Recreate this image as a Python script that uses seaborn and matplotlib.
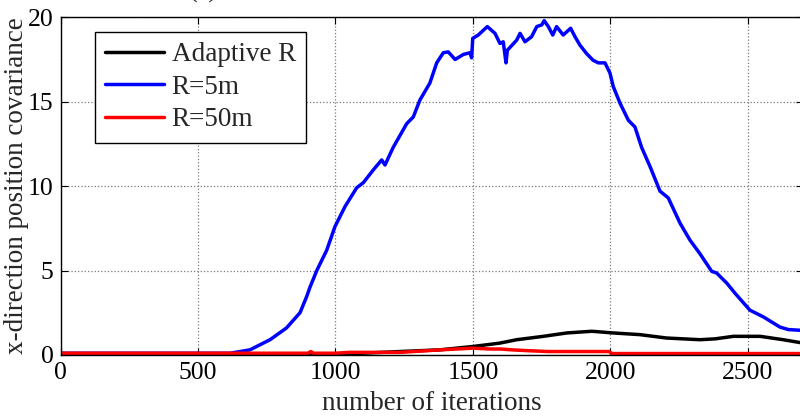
import matplotlib
matplotlib.use("Agg")
import matplotlib.pyplot as plt
import seaborn as sns
import pandas as pd

# ---- data ----
series_names = ["Adaptive R", "R=5m", "R=50m"]
series_colors = ["#000000", "#0000ff", "#ff0000"]

black_x = [0, 1000, 1100, 1235, 1380, 1501, 1598, 1659, 1756, 1841, 1932, 2010,
           2107, 2204, 2325, 2380, 2447, 2544, 2628, 2700]
black_y = [0.05, 0.05, 0.1, 0.2, 0.3, 0.5, 0.7, 0.9, 1.1, 1.3, 1.4, 1.3,
           1.2, 1.0, 0.9, 0.95, 1.1, 1.1, 0.9, 0.7]

blue_x = [0, 617, 689, 762, 822, 871, 895, 907, 932, 968, 998, 1035, 1077, 1101,
          1137, 1168, 1180, 1210, 1259, 1283, 1307, 1343, 1368, 1392, 1410, 1435,
          1465, 1489, 1495, 1499, 1519, 1552, 1580, 1598, 1610, 1620, 1625, 1659,
          1671, 1689, 1713, 1732, 1750, 1759, 1774, 1790, 1804, 1828, 1855, 1871,
          1889, 1913, 1937, 1956, 1980, 1998, 2010, 2035, 2065, 2089, 2113, 2144,
          2180, 2210, 2253, 2289, 2325, 2368, 2386, 2423, 2453, 2507, 2556, 2616,
          2647, 2700]
blue_y = [0.1, 0.1, 0.3, 0.9, 1.6, 2.5, 3.45, 4.0, 5.0, 6.2, 7.6, 8.8, 9.9, 10.2,
          10.95, 11.55, 11.25, 12.3, 13.7, 14.1, 15.1, 16.1, 17.3, 17.9, 17.95, 17.5,
          17.8, 17.9, 17.6, 18.75, 18.95, 19.45, 19.05, 18.45, 18.55, 17.3, 18.05, 18.65,
          19.05, 18.55, 18.85, 19.45, 19.55, 19.8, 19.45, 18.95, 19.45, 18.95, 19.35, 18.85,
          18.35, 17.85, 17.45, 17.3, 17.3, 16.7, 15.9, 14.9, 13.9, 13.5, 12.3, 11.15,
          9.7, 9.3, 7.8, 6.8, 6.0, 4.95, 4.85, 4.25, 3.65, 2.65, 2.25, 1.65,
          1.5, 1.45]

red_x = [0, 900, 910, 920, 1000, 1050, 1235, 1380, 1500, 1560, 1600, 1640, 1700,
         1774, 1956, 1995, 2005, 2700]
red_y = [0.1, 0.1, 0.2, 0.1, 0.1, 0.15, 0.15, 0.3, 0.4, 0.35, 0.35, 0.3, 0.25,
         0.2, 0.2, 0.2, 0.08, 0.08]

x_ticks = [0, 500, 1000, 1500, 2000, 2500]
y_ticks = [0, 5, 10, 15, 20]
x_label = "number of iterations"
y_label = "x-direction position covariance"
title_text = "(a)"

# ---- style ----
sns.set_style("ticks")
plt.rcParams["font.family"] = ["Liberation Serif", "DejaVu Serif"]

W, H = 800, 417
fig = plt.figure(figsize=(W / 100, H / 100), dpi=100)
ax_left, ax_right, ax_top, ax_bottom = 60.5, 803.0, 17.3, 354.9
ax = fig.add_axes([ax_left / W, 1 - ax_bottom / H,
                   (ax_right - ax_left) / W, (ax_bottom - ax_top) / H])

frames = []
for name, xs, ys in zip(series_names, [black_x, blue_x, red_x], [black_y, blue_y, red_y]):
    frames.append(pd.DataFrame({"x": xs, "y": ys, "series": name}))
df = pd.concat(frames, ignore_index=True)

for name, col in zip(series_names, series_colors):
    sub = df[df["series"] == name]
    sns.lineplot(data=sub, x="x", y="y", ax=ax, color=col, linewidth=2.5,
                 label=name, sort=False, estimator=None)

ax.set_xlim(0, 2700)
ax.set_ylim(0, 20)
ax.set_xticks(x_ticks)
ax.set_yticks(y_ticks)
ax.grid(True, linestyle=":", color="#7a7a7a", linewidth=0.9)
ax.set_axisbelow(True)
ax.tick_params(direction="in", top=True, right=True, length=5, width=0.8,
               labelsize=18.5, colors="black")
ax.tick_params(axis="x", pad=5)
ax.tick_params(axis="y", pad=5)
for s in ax.spines.values():
    s.set_color("black")
    s.set_linewidth(1.0)

ax.set_xlabel(x_label, fontsize=19.5)
ax.set_ylabel(y_label, fontsize=19.5)
ax.xaxis.set_label_coords(0.5, -0.108)
ax.yaxis.set_label_coords(-0.043, 0.5)

leg = ax.legend(loc="upper left",
                bbox_to_anchor=((95 - ax_left) / (ax_right - ax_left),
                                1 - (32 - ax_top) / (ax_bottom - ax_top)),
                borderaxespad=0, fontsize=19.5, frameon=True, fancybox=False,
                framealpha=1, edgecolor="black", handlelength=2.15,
                handletextpad=0.3, borderpad=0.38, labelspacing=0.28)
leg.get_frame().set_linewidth(1.0)
for line in leg.get_lines():
    line.set_linewidth(2.5)

fig.text(203 / W, 1 - 3 / H, title_text, ha="center", va="bottom", fontsize=19)

fig.savefig("out.png", dpi=100)
